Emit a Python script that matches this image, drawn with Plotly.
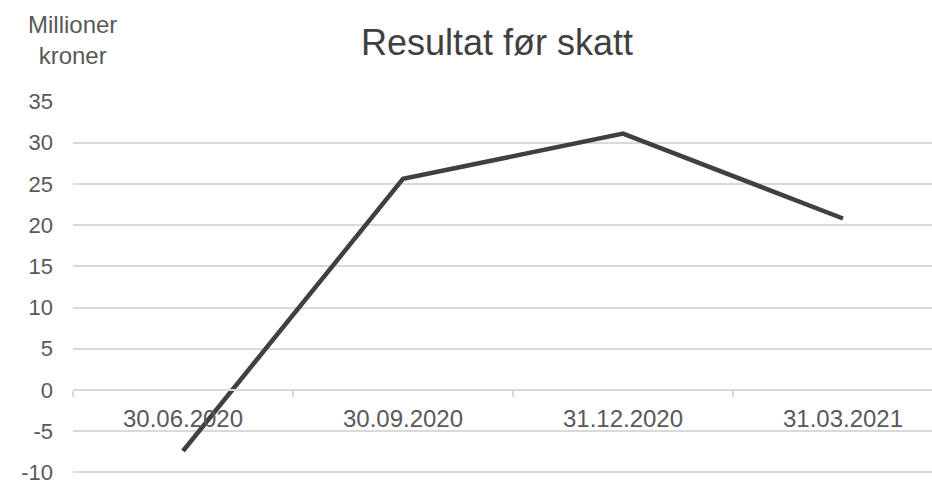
import plotly.graph_objects as go

categories = ["30.06.2020", "30.09.2020", "31.12.2020", "31.03.2021"]
values = [-7.4, 25.6, 31.1, 20.8]
y_ticks = [-10, -5, 0, 5, 10, 15, 20, 25, 30, 35]
y_tick_labels = ["-10", "-5", "0", "5", "10", "15", "20", "25", "30", "35"]
title_text = "Resultat før skatt"
unit_text = "Millioner<br>kroner"

FONT = "Liberation Sans, Arial, sans-serif"
W, H = 932, 480
ml, mr, mt, mb = 73, 0, 101, 3
ymin, ymax = -10, 35
px_per_unit = 371.0 / (ymax - ymin)
band = 220.0
plot_w = W - ml - mr
plot_h = H - mt - mb
r_top = ymax + 0.05
r_bot = r_top - plot_h / px_per_unit

fig = go.Figure()
fig.add_trace(go.Scatter(
    x=categories, y=values, mode="lines",
    line=dict(color="#404040", width=4.5),
    hoverinfo="skip", showlegend=False,
))

fig.update_layout(
    width=W, height=H,
    margin=dict(l=ml, r=mr, t=mt, b=mb, pad=0),
    paper_bgcolor="white", plot_bgcolor="white",
    font=dict(family=FONT, color="#595959"),
    showlegend=False,
    xaxis=dict(
        type="category",
        range=[-0.5, -0.5 + plot_w / band],
        anchor="free",
        position=(0 - r_bot) / (r_top - r_bot),
        showgrid=False, zeroline=False,
        showline=True, linecolor="#d9d9d9", linewidth=1.5,
        ticks="outside", tickson="boundaries", ticklen=6,
        tickcolor="#d9d9d9", tickwidth=1.5,
        tickfont=dict(size=24, color="#595959", family=FONT),
        ticklabelstandoff=7,
    ),
    yaxis=dict(
        range=[r_bot, r_top],
        tickvals=y_ticks, ticktext=y_tick_labels,
        showgrid=True, gridcolor="#d9d9d9", gridwidth=1.5,
        zeroline=False, showline=False, ticks="",
        tickfont=dict(size=22, color="#595959", family=FONT),
        ticklabelstandoff=19,
        ticklabeloverflow="allow",
        automargin=False,
    ),
    annotations=[
        dict(text=title_text, xref="paper", yref="paper",
             x=(497 - ml) / plot_w, y=1 + (101 - 42) / plot_h,
             xanchor="center", yanchor="middle", showarrow=False,
             font=dict(size=36, color="#404040", family=FONT)),
        dict(text=unit_text, xref="paper", yref="paper",
             x=(72 - ml) / plot_w, y=1 + (101 - 40) / plot_h,
             xanchor="center", yanchor="middle", showarrow=False,
             align="center",
             font=dict(size=24, color="#595959", family=FONT)),
    ],
)

fig.write_html(
    "out.html",
    config={"displayModeBar": False},
    post_script="document.body.style.margin='0';document.body.style.padding='0';",
)
